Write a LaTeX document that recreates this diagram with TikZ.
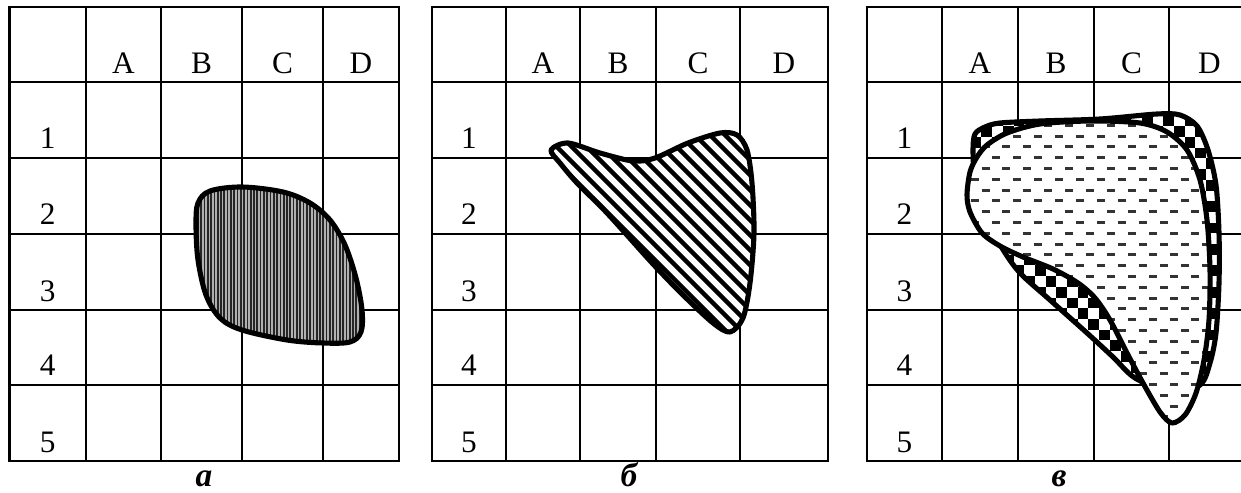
\documentclass[tikz,border=0pt]{standalone}
\usepackage{fontspec}
\setmainfont{Liberation Serif}
\definecolor{hatchgray}{HTML}{B0B0B0}
\definecolor{dashgray}{HTML}{333333}

\begin{document}
\begin{tikzpicture}[x=0.02cm, y=-0.02cm,
    grid/.style={line width=1.2pt, line cap=rect},
    contour/.style={line width=2.9pt, line join=round},
    lbl/.style={font=\fontsize{17.8}{21}\selectfont, anchor=base, inner sep=0pt},
    subcap/.style={font=\fontsize{19}{22}\selectfont\bfseries\itshape, anchor=base, inner sep=0pt},
  ]
  \useasboundingbox (0,0) rectangle (1241,493);
  \clip (0,0) rectangle (1241,493);

  % three tables
  \foreach \p/\t/\xa/\xb/\xc/\xd/\xe/\xf/\cx in
      {a/а/9.5/86/161/242/323/399/204,
       b/б/432/506/580/656/740/828/629,
       c/в/867/942/1018/1094/1169/1250/1059} {
    \foreach \y in {7,82,158,234,310,385,461}
      \draw[grid] (\xa,\y) -- (\xf,\y);
    \foreach \x in {\xa,\xb,\xc,\xd,\xe,\xf}
      \draw[grid] (\x,7) -- (\x,461);
    \node[lbl] (\p-A) at ({(\xb+\xc)/2},74) {A};
    \node[lbl] (\p-B) at ({(\xc+\xd)/2},74) {B};
    \node[lbl] (\p-C) at ({(\xd+\xe)/2},74) {C};
    \node[lbl] (\p-D) at ({(\xe+\xf)/2},74) {D};
    \foreach \n/\y in {1/149,2/225,3/301,4/376,5/452}
      \node[lbl] (\p-\n) at ({(\xa+\xb)/2},\y) {\n};
    \node[subcap] (cap-\p) at (\cx,486) {\t};
  }

  % a
  \draw[contour, fill=hatchgray, path picture={
      \foreach \x in {188,191.3,...,368}
        \draw[line width=1pt, black!85] (\x,180) -- (\x,350);
    }] plot[smooth cycle, tension=0.55] coordinates {
      (198,203) (210,191) (242,187) (283,192) (310,203) (330,220)
      (345,245) (356,278) (362,310) (361,332) (350,342) (323,343)
      (287,340) (242,330) (220,318) (206,295) (198,260) (196,225)};

  % b
  \draw[contour, fill=white, path picture={
      \foreach \k in {365,380,...,635}
        \draw[line width=2.6pt] (\k+100,100) -- (\k+360,360);
    }] plot[smooth cycle, tension=0.5] coordinates {
      (551,150) (568,143) (600,153) (633,161) (655,158) (688,143)
      (720,133) (737,135) (747,150) (752,183) (754,233) (750,283)
      (743,318) (730,332) (713,323) (683,295) (653,264) (607,213)
      (577,183) (560,163)};

  % c, back shape
  \draw[contour, fill=white, path picture={
      \foreach \i in {0,...,25} {
        \pgfmathtruncatemacro\off{mod(\i,2)}
        \foreach \j in {0,2,...,28}
          \fill[black] ({960+\i*10.7},{105+(\j+\off)*10.7}) rectangle ++(10.7,10.7);
      }
    }] plot[smooth cycle, tension=0.5] coordinates {
      (973,150) (975,134) (985,127) (1000,123) (1040,121) (1100,119)
      (1157,114) (1180,115) (1197,126) (1208,150) (1216,185) (1219,233)
      (1219,283) (1216,333) (1210,363) (1200,385) (1170,392) (1135,378)
      (1113,357) (1087,333) (1050,300) (1020,273) (1002,248) (985,215)
      (975,180)};

  % c, front shape
  \draw[contour, fill=white, path picture={
      \foreach \r in {0,...,29} {
        \pgfmathsetmacro\ph{mod(\r,2)*0.21}
        \draw[dashgray, line width=1.6pt, dash pattern=on 0.16cm off 0.26cm,
              dash phase=\ph cm] (950,{114.5+\r*10.8}) -- (1230,{114.5+\r*10.8});
      }
    }] plot[smooth cycle, tension=0.5] coordinates {
      (987,145) (1007,133) (1040,124) (1090,121) (1140,123) (1167,132)
      (1187,150) (1200,180) (1207,220) (1210,270) (1209,320) (1204,360)
      (1196,393) (1185,415) (1172,423) (1160,412) (1143,383) (1127,353)
      (1110,320) (1095,298) (1078,283) (1053,269) (1023,257) (1000,246)
      (982,233) (970,212) (967,195) (970,172) (977,157)};
\end{tikzpicture}
\end{document}
